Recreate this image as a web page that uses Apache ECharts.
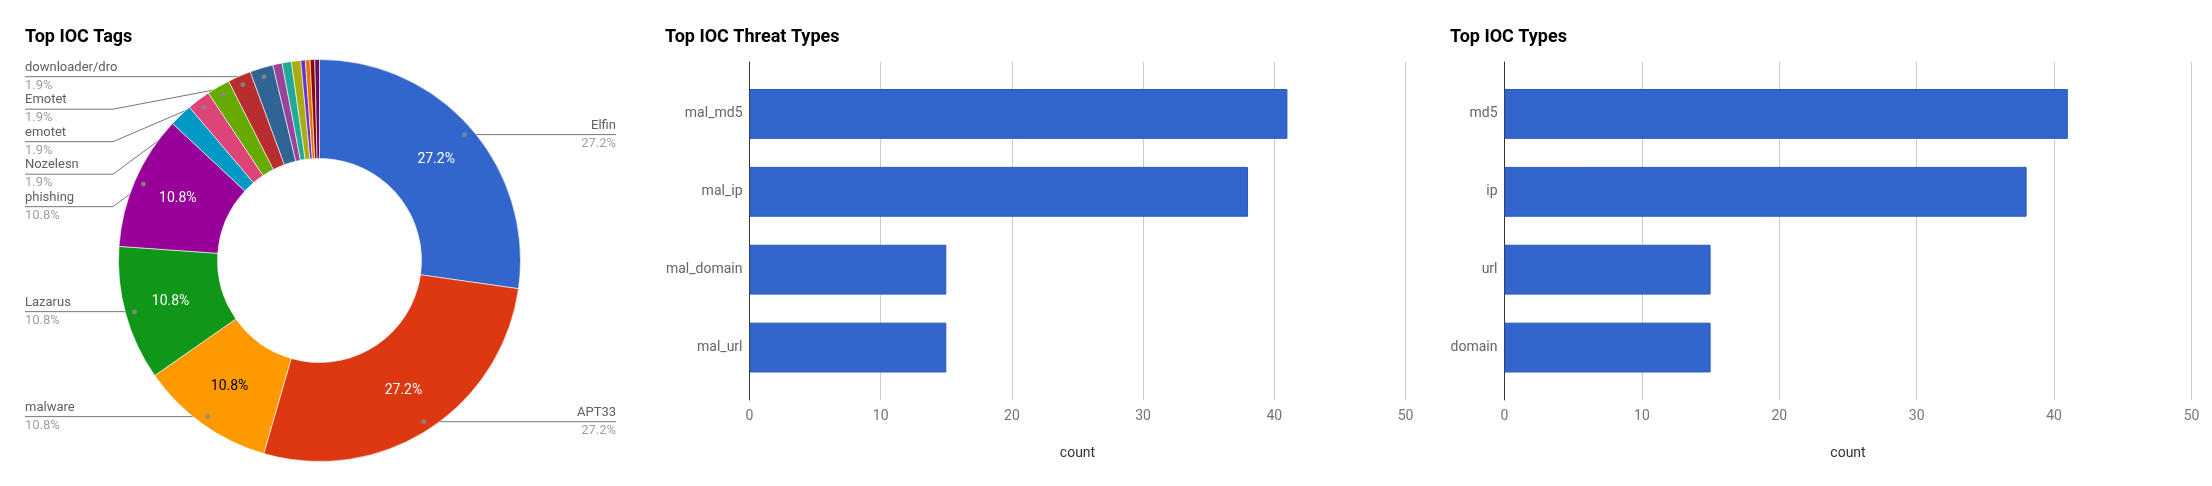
<!DOCTYPE html>
<html><head><meta charset="utf-8">
<script src="https://cdn.jsdelivr.net/npm/echarts@6/dist/echarts.min.js"></script>
<style>html,body{margin:0;padding:0;background:#fff}#c{width:2212px;height:486px}</style>
</head><body><div id="c"></div>
<script>
// ---- data ----
const tagNames = ['Elfin','APT33','malware','Lazarus','phishing','tag-06','Nozelesn','emotet','Emotet','downloader/dro','tag-11','tag-12','tag-13','tag-14','tag-15','tag-16','tag-17'];
const tagCounts = [73,73,29,29,29,5,5,5,5,5,2,2,2,1,1,1,1];
const tagLabeled = [1,1,1,1,1,0,1,1,1,1,0,0,0,0,0,0,0];
const tagInside  = [1,1,1,1,1,0,0,0,0,0,0,0,0,0,0,0,0];
const tagColors = ['#3366cc','#dc3912','#ff9900','#109618','#990099','#0099c6','#dd4477','#66aa00','#b82e2e','#316395','#994499','#22aa99','#aaaa11','#6633cc','#e67300','#8b0707','#651067'];
const threatTypes = ['mal_md5','mal_ip','mal_domain','mal_url'];
const threatCounts = [41,38,15,15];
const iocTypes = ['md5','ip','url','domain'];
const iocCounts = [41,38,15,15];
const countMin = 0, countMax = 50, countStep = 10;

// ---- layout constants ----
const CX = 319.5, CY = 260.5, R_OUT = 201, R_IN = 102, R_DOT = 192;
const LEFT_X = 25, RIGHT_X = 616, BEND = 88, ROW = 32.5;
const FONT = 'Roboto';

const total = tagCounts.reduce((a,b)=>a+b,0);
const mids = []; { let c = 0; tagCounts.forEach(v => { mids.push(c + v/2); c += v; }); }
function dotPos(i){ const a = mids[i]/total*2*Math.PI; return [CX + R_DOT*Math.sin(a), CY - R_DOT*Math.cos(a)]; }
const labelPos = {};
['left','right'].forEach(side => {
  const idx = tagCounts.map((v,i)=>i).filter(i => tagLabeled[i] && ((dotPos(i)[0] < CX) === (side === 'left')));
  idx.sort((a,b) => dotPos(a)[1] - dotPos(b)[1]);
  let prev = -Infinity;
  idx.forEach(i => { const y = Math.max(dotPos(i)[1], prev + ROW); prev = y; labelPos[i] = {side, y}; });
});

const chart = echarts.init(document.getElementById('c'), null, {renderer:'canvas'});

function titleOpt(text, left){
  return {text, left, top: 26, padding: 0, textStyle:{fontFamily:FONT, fontSize:18, fontWeight:'bold', color:'#000', lineHeight:22}};
}
function gridPair(left, width){
  return [
    {left, width, top: 62, height: 338, outerBoundsMode:'none', containLabel:false},
    {left, width, top: 75, height: 311.5, outerBoundsMode:'none', containLabel:false}
  ];
}
const grids = [].concat(gridPair(749.5, 656), gridPair(1504.5, 687));

function xAxes(gA, gB){
  return [
    {type:'value', gridIndex:gA, min:countMin, max:countMax, interval:countStep,
     axisLine:{show:false}, axisTick:{show:false},
     splitLine:{show:true, lineStyle:{color:'#cccccc', width:1}},
     axisLabel:{color:'#757575', fontSize:14, fontFamily:FONT, margin:9},
     name:'count', nameLocation:'middle', nameGap:46,
     nameTextStyle:{color:'#333', fontSize:14, fontFamily:FONT}},
    {type:'value', gridIndex:gB, min:countMin, max:countMax, show:false}
  ];
}
function yAxes(gA, gB, cats){
  return [
    {type:'value', gridIndex:gA, min:0, max:1, axisLine:{show:true, onZero:false, lineStyle:{color:'#333', width:1}},
     axisTick:{show:false}, axisLabel:{show:false}, splitLine:{show:false}},
    {type:'category', gridIndex:gB, data:cats, inverse:true, axisLine:{show:false}, axisTick:{show:false},
     splitLine:{show:false}, axisLabel:{color:'#666', fontSize:14, fontFamily:FONT, margin:7}}
  ];
}

const barStyle = {color:'#3366cc', borderColor:'#2b59b8', borderWidth:1};

const option = {
  animation:false,
  textStyle:{fontFamily:FONT},
  title:[titleOpt('Top IOC Tags', 25), titleOpt('Top IOC Threat Types', 665), titleOpt('Top IOC Types', 1450)],
  grid: grids,
  xAxis: [].concat(xAxes(0,1), xAxes(2,3)),
  yAxis: [].concat(yAxes(0,1,threatTypes), yAxes(2,3,iocTypes)),
  polar:{center:[CX, CY], radius:R_OUT},
  angleAxis:{type:'value', min:0, max:total, startAngle:90, clockwise:true, show:false},
  radiusAxis:{type:'value', min:0, max:R_OUT, show:false},
  series:[
    {type:'pie', center:[CX, CY], radius:[R_IN, R_OUT], startAngle:90, clockwise:true, silent:true,
     avoidLabelOverlap:false, percentPrecision:1,
     itemStyle:{borderColor:'#ffffff', borderWidth:0.6},
     label:{show:true, position:'inside', formatter:'{d}%', fontSize:14, fontFamily:FONT, color:'#fff'},
     labelLine:{show:false},
     emphasis:{disabled:true},
     data: tagNames.map((n,i) => ({name:n, value:tagCounts[i], itemStyle:{color:tagColors[i]},
        label:{show:!!tagInside[i], color: tagColors[i] === '#ff9900' ? '#000' : '#fff'}}))
    },
    {type:'pie', center:[CX, CY], radius:[R_IN, R_OUT], startAngle:90, clockwise:true, silent:true,
     avoidLabelOverlap:false, percentPrecision:1,
     itemStyle:{color:'rgba(0,0,0,0)', borderWidth:0},
     label:{show:true, position:'outside', alignTo:'none', overflow:'none',
       formatter:'{n|{b}}\n{p|{d}%}',
       rich:{n:{color:'#5f5f5f', fontSize:13, fontFamily:FONT, lineHeight:18},
             p:{color:'#a0a0a0', fontSize:13, fontFamily:FONT, lineHeight:18}}},
     labelLine:{show:true, length:10, length2:10, lineStyle:{color:'#757575', width:1}},
     emphasis:{disabled:true},
     labelLayout: function(p){
       const L = labelPos[p.dataIndex]; if (!L) return;
       const d = dotPos(p.dataIndex);
       const left = L.side === 'left';
       const ex = left ? LEFT_X : RIGHT_X;
       const bx = left ? LEFT_X + BEND : RIGHT_X - BEND;
       return {x:ex, y:L.y, align:left?'left':'right', verticalAlign:'middle',
               labelLinePoints:[d, [bx, L.y], [ex, L.y]]};
     },
     data: tagNames.map((n,i) => ({name:n, value:tagCounts[i],
        label:{show:!!tagLabeled[i]}, labelLine:{show:!!tagLabeled[i]}}))
    },
    {type:'scatter', coordinateSystem:'polar', silent:true, symbolSize:5, z:10,
     itemStyle:{color:'#8a8a8a'},
     data: tagNames.map((n,i)=>i).filter(i=>tagLabeled[i]).map(i => [R_DOT, mids[i]])
    },
    {type:'bar', xAxisIndex:1, yAxisIndex:1, data:threatCounts, barCategoryGap:'36%', itemStyle:barStyle, silent:true},
    {type:'bar', xAxisIndex:3, yAxisIndex:3, data:iocCounts, barCategoryGap:'36%', itemStyle:barStyle, silent:true}
  ]
};
chart.setOption(option);
</script></body></html>
